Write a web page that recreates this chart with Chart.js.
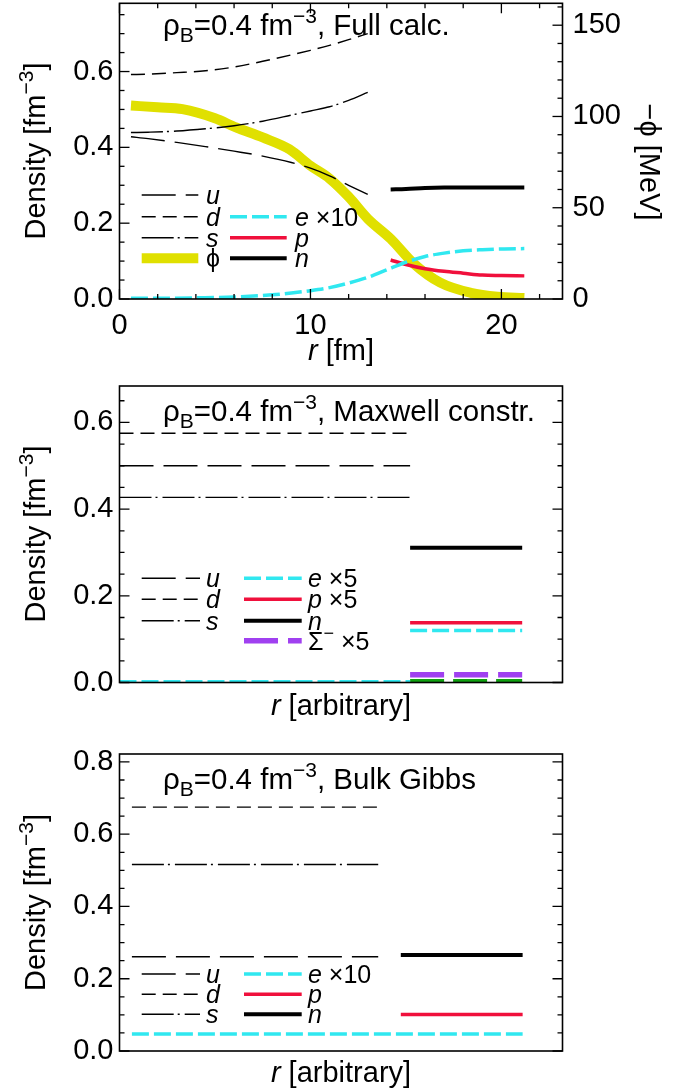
<!DOCTYPE html>
<html>
<head>
<meta charset="utf-8">
<script src="https://cdn.jsdelivr.net/npm/chart.js@4.4.1/dist/chart.umd.min.js"></script>
<style>
  body { margin: 0; background: #fff; width: 688px; height: 1091px; position: relative; overflow: hidden; }
  canvas { position: absolute; left: 0; }
</style>
</head>
<body>
<canvas id="full" width="688" height="375" style="top:0px"></canvas>
<canvas id="maxwell" width="688" height="356" style="top:372px"></canvas>
<canvas id="gibbs" width="688" height="356" style="top:735px"></canvas>
<script>
// ---- Full calculation (r in fm) ----
const rQuark = [0.6, 1.5, 3, 4.5, 6, 7.5, 9, 10, 11, 12, 13];
const uFull = [0.428, 0.423, 0.413, 0.402, 0.390, 0.377, 0.360, 0.345, 0.325, 0.300, 0.276];
const dFull = [0.592, 0.593, 0.597, 0.602, 0.612, 0.627, 0.644, 0.656, 0.669, 0.684, 0.700];
const sFull = [0.439, 0.440, 0.443, 0.449, 0.457, 0.469, 0.485, 0.496, 0.507, 0.524, 0.545];

const rPhi = [0.6, 2, 3.3, 5, 6.1, 7.5, 8.9, 10, 11, 12, 13, 14.2, 15.4, 16.8, 18.4, 19.8, 21.2];
const phiFull = [106, 105, 104, 99, 94, 88.5, 82, 73, 66, 56, 44, 33, 19.5, 9, 3.4, 1.2, 0.5]; // MeV

const rHad = [14.2, 15, 16, 17, 18, 19, 20, 21.2];
const nFull = [0.289, 0.290, 0.293, 0.294, 0.294, 0.294, 0.294, 0.294];
const pFull = [0.103, 0.091, 0.080, 0.073, 0.068, 0.063, 0.062, 0.061];

const rE = [0.6, 2, 4, 6, 8, 9, 10, 11, 12, 13, 14, 15, 16, 17, 18, 19, 20, 21.2];
const eFull = [0.002, 0.002, 0.003, 0.005, 0.011, 0.016, 0.022, 0.030, 0.042, 0.057, 0.077, 0.097, 0.112, 0.121, 0.127, 0.130, 0.132, 0.133];

// ---- Maxwell construction (r arbitrary, 0..1) ----
const mxQuarkR = [0, 0.656];
const mxHadR = [0.656, 0.909];
const mxU = [0.500, 0.500];
const mxD = [0.575, 0.575];
const mxS = [0.427, 0.427];
const mxEQuark = [0.002, 0.002];
const mxE = [0.120, 0.120];
const mxP = [0.138, 0.138];
const mxN = [0.311, 0.311];
const mxSig = [0.018, 0.018];
const mxGreen = [0.004, 0.004];

// ---- Bulk Gibbs (r arbitrary, 0..1) ----
const bgQuarkR = [0.028, 0.584];
const bgHadR = [0.635, 0.910];
const bgER = [0.028, 0.910];
const bgU = [0.261, 0.261];
const bgD = [0.675, 0.675];
const bgS = [0.516, 0.516];
const bgE = [0.047, 0.047];
const bgP = [0.101, 0.101];
const bgN = [0.266, 0.266];

const FONT = '"Liberation Sans", Arial, sans-serif';
Chart.defaults.font.family = FONT;
Chart.defaults.color = '#000';

// line styles
const ST = {
  u: { borderColor: '#000', borderWidth: 1.4, borderDash: [34, 10] },
  d: { borderColor: '#000', borderWidth: 1.4, borderDash: [14, 7] },
  s: { borderColor: '#000', borderWidth: 1.4, borderDash: [32, 4, 2, 5] },
  e: { borderColor: '#30e8f0', borderWidth: 3.5, borderDash: [17, 5] },
  p: { borderColor: '#f0103c', borderWidth: 3.5, borderDash: [] },
  n: { borderColor: '#000', borderWidth: 4, borderDash: [] },
  phi: { borderColor: '#e0e000', borderWidth: 10, borderDash: [] },
  sig: { borderColor: '#a040f0', borderWidth: 5.5, borderDash: [34, 10] },
  green: { borderColor: '#10a010', borderWidth: 3.5, borderDash: [34, 9] }
};

function pts(xs, ys) { return xs.map((x, i) => ({ x: x, y: ys[i] })); }

function series(label, xs, ys, st, axis) {
  return Object.assign({
    label: label, data: pts(xs, ys), pointRadius: 0, fill: false,
    borderCapStyle: 'butt', cubicInterpolationMode: 'monotone', yAxisID: axis || 'y'
  }, st);
}

// rich text helpers
const T = t => ({ t: t });
const I = t => ({ t: t, it: true });
const SUP = t => ({ t: t, sup: true });
const SUB = t => ({ t: t, sub: true });

function fontFor(s, size) {
  const sz = (s.sup || s.sub) ? Math.round(size * 0.72) : size;
  return (s.it ? 'italic ' : '') + sz + 'px ' + FONT;
}

function drawRich(ctx, segs, x, y, size, align) {
  let w = 0;
  segs.forEach(s => { ctx.font = fontFor(s, size); w += ctx.measureText(s.t).width; });
  let cx = align === 'center' ? x - w / 2 : x;
  ctx.textAlign = 'left';
  ctx.textBaseline = 'alphabetic';
  segs.forEach(s => {
    ctx.font = fontFor(s, size);
    const dy = s.sup ? -0.42 * size : (s.sub ? 0.24 * size : 0);
    ctx.fillText(s.t, cx, y + dy);
    cx += ctx.measureText(s.t).width;
  });
}

// box round the plot and inward ticks
const framePlugin = {
  id: 'frame',
  afterDatasetsDraw(chart, args, opts) {
    const ctx = chart.ctx, a = chart.chartArea;
    ctx.save();
    ctx.strokeStyle = '#000';
    ctx.setLineDash([]);
    ctx.lineWidth = 1.6;
    ctx.strokeRect(a.left, a.top, a.right - a.left, a.bottom - a.top);
    ctx.lineWidth = 1.3;
    (opts.marks || []).forEach(m => {
      const sc = chart.scales[m.scale];
      const k0 = Math.ceil(sc.min / m.minor - 1e-6), k1 = Math.floor(sc.max / m.minor + 1e-6);
      for (let k = k0; k <= k1; k++) {
        const v = k * m.minor;
        const r = v / m.major;
        const len = Math.abs(r - Math.round(r)) < 1e-6 ? 10 : 5;
        const p = sc.getPixelForValue(v);
        ctx.beginPath();
        m.sides.forEach(side => {
          if (side === 'left') { ctx.moveTo(a.left, p); ctx.lineTo(a.left + len, p); }
          if (side === 'right') { ctx.moveTo(a.right, p); ctx.lineTo(a.right - len, p); }
          if (side === 'bottom') { ctx.moveTo(p, a.bottom); ctx.lineTo(p, a.bottom - len); }
          if (side === 'top') { ctx.moveTo(p, a.top); ctx.lineTo(p, a.top + len); }
        });
        ctx.stroke();
      }
    });
    ctx.restore();
  }
};

// titles and axis labels with sub/superscripts
const textPlugin = {
  id: 'texts',
  afterDraw(chart, args, opts) {
    const ctx = chart.ctx;
    (opts.items || []).forEach(it => {
      ctx.save();
      ctx.fillStyle = '#000';
      if (it.rot) {
        ctx.translate(it.x, it.y);
        ctx.rotate(it.rot);
        drawRich(ctx, it.segs, 0, 0, it.size, 'center');
      } else {
        drawRich(ctx, it.segs, it.x, it.y, it.size, it.align);
      }
      ctx.restore();
    });
  }
};

// legend drawn inside the plot
const keyPlugin = {
  id: 'keys',
  afterDraw(chart, args, opts) {
    const ctx = chart.ctx;
    (opts.rows || []).forEach(r => {
      ctx.save();
      ctx.strokeStyle = r.st.borderColor;
      ctx.lineWidth = r.st.borderWidth;
      ctx.setLineDash(r.st.borderDash);
      ctx.lineCap = 'butt';
      ctx.beginPath();
      ctx.moveTo(r.x0, r.y);
      ctx.lineTo(r.x1, r.y);
      ctx.stroke();
      ctx.fillStyle = '#000';
      drawRich(ctx, r.segs, r.tx, r.y + 9, 25, 'left');
      ctx.restore();
    });
  }
};

const tickFont = { size: 29 };
const yFmt = v => (Math.abs(v * 5 - Math.round(v * 5)) < 1e-6 ? v.toFixed(1) : '');

// fixed axis sizes so the plot box sits where the reference has it
function fixWidth(w) {
  return s => { s.width = w; s.paddingTop = 0; s.paddingBottom = 0; };
}
function fixHeight(h) {
  return s => { s.height = h; s.paddingLeft = 0; s.paddingRight = 0; };
}

function leftAxis(max) {
  return {
    type: 'linear', position: 'left', min: 0, max: max,
    afterFit: fixWidth(119.5),
    grid: { display: false, drawTicks: false }, border: { display: false },
    ticks: { stepSize: 0.2, includeBounds: false, padding: 6, font: tickFont, callback: yFmt }
  };
}

function arbitraryX(h) {
  return {
    type: 'linear', min: 0, max: 1,
    afterFit: fixHeight(h),
    grid: { display: false, drawTicks: false }, border: { display: false },
    ticks: { display: false }
  };
}

function baseOptions(pad) {
  return { responsive: false, animation: false, events: [], layout: { padding: pad } };
}

function titleSegs(name) {
  return [T('ρ'), SUB('B'), T('=0.4 fm'), SUP('−3'), T(', ' + name)];
}
const densitySegs = [T('Density [fm'), SUP('−3'), T(']')];

function keyRow(y, st, segs, x0, x1, tx) {
  return { x0: x0, x1: x1, tx: tx, y: y, st: st, segs: segs };
}

// ---------- panel 1: full calculation ----------
const o1 = baseOptions({ top: 3.3, left: 0, right: 0, bottom: 0 });
o1.scales = {
  x: {
    type: 'linear', min: 0, max: 23.2,
    afterFit: fixHeight(375 - 299),
    grid: { display: false, drawTicks: false }, border: { display: false },
    ticks: { stepSize: 10, includeBounds: false, padding: 10, maxRotation: 0, font: tickFont,
             callback: v => (v % 10 === 0 ? String(v) : '') }
  },
  y: leftAxis(0.78),
  y2: {
    type: 'linear', position: 'right', min: 0, max: 162,
    afterFit: fixWidth(688 - 562.5),
    grid: { display: false, drawTicks: false }, border: { display: false },
    ticks: { stepSize: 50, includeBounds: false, padding: 10, font: tickFont,
             callback: v => (v % 50 === 0 ? String(v) : '') }
  }
};
o1.plugins = {
  legend: { display: false }, tooltip: { enabled: false },
  frame: { marks: [
    { scale: 'y', major: 0.2, minor: 0.05, sides: ['left'] },
    { scale: 'y2', major: 50, minor: 10, sides: ['right'] },
    { scale: 'x', major: 10, minor: 2, sides: ['bottom', 'top'] }
  ] },
  texts: { items: [
    { segs: titleSegs('Full calc.'), x: 163, y: 35, size: 29.5, align: 'left' },
    { segs: [I('r'), T(' [fm]')], x: 341, y: 360, size: 29, align: 'center' },
    { segs: densitySegs, x: 45, y: 151, size: 29, rot: -Math.PI / 2 },
    { segs: [T('−ϕ [MeV]')], x: 640, y: 162, size: 29, rot: Math.PI / 2 }
  ] },
  keys: { rows: [
    keyRow(195, ST.u, [I('u')], 141.7, 198.3, 206),
    keyRow(216.7, ST.d, [I('d')], 141.7, 198.3, 206),
    keyRow(237.7, ST.s, [I('s')], 141.7, 198.3, 206),
    keyRow(258.3, ST.phi, [T('ϕ')], 141.7, 198.3, 206),
    keyRow(216.7, ST.e, [I('e'), T(' ×10')], 230, 286.7, 295),
    keyRow(237.7, ST.p, [I('p')], 230, 286.7, 295),
    keyRow(258.3, ST.n, [I('n')], 230, 286.7, 295)
  ] }
};

new Chart(document.getElementById('full'), {
  type: 'line',
  data: { datasets: [
    series('u', rQuark, uFull, ST.u),
    series('d', rQuark, dFull, ST.d),
    series('s', rQuark, sFull, ST.s),
    series('e ×10', rE, eFull, ST.e),
    series('p', rHad, pFull, ST.p),
    series('n', rHad, nFull, ST.n),
    series('ϕ', rPhi, phiFull, ST.phi, 'y2')
  ] },
  options: o1,
  plugins: [framePlugin, textPlugin, keyPlugin]
});

// ---------- panel 2: Maxwell construction ----------
const o2 = baseOptions({ top: 14, left: 0, right: 125.5, bottom: 0 });
o2.scales = { x: arbitraryX(45.5), y: leftAxis(0.684) };
o2.plugins = {
  legend: { display: false }, tooltip: { enabled: false },
  frame: { marks: [{ scale: 'y', major: 0.2, minor: 0.05, sides: ['left', 'right'] }] },
  texts: { items: [
    { segs: titleSegs('Maxwell constr.'), x: 163, y: 49, size: 29.5, align: 'left' },
    { segs: [I('r'), T(' [arbitrary]')], x: 341, y: 343, size: 29, align: 'center' },
    { segs: densitySegs, x: 45, y: 162, size: 29, rot: -Math.PI / 2 }
  ] },
  keys: { rows: [
    keyRow(206.3, ST.u, [I('u')], 141.7, 200, 206),
    keyRow(227.3, ST.d, [I('d')], 141.7, 200, 206),
    keyRow(248.7, ST.s, [I('s')], 141.7, 200, 206),
    keyRow(206.3, ST.e, [I('e'), T(' ×5')], 244, 301.7, 308),
    keyRow(227.3, ST.p, [I('p'), T(' ×5')], 244, 301.7, 308),
    keyRow(248.7, ST.n, [I('n')], 244, 301.7, 308),
    keyRow(268.7, ST.sig, [T('Σ'), SUP('−'), T(' ×5')], 244, 301.7, 308)
  ] }
};

new Chart(document.getElementById('maxwell'), {
  type: 'line',
  data: { datasets: [
    series('u', mxQuarkR, mxU, ST.u),
    series('d', mxQuarkR, mxD, ST.d),
    series('s', mxQuarkR, mxS, ST.s),
    series('e ×5 (quark)', mxQuarkR, mxEQuark, ST.e),
    series('e ×5', mxHadR, mxE, ST.e),
    series('p ×5', mxHadR, mxP, ST.p),
    series('n', mxHadR, mxN, ST.n),
    series('Σ− ×5', mxHadR, mxSig, ST.sig),
    series('other', mxHadR, mxGreen, ST.green)
  ] },
  options: o2,
  plugins: [framePlugin, textPlugin, keyPlugin]
});

// ---------- panel 3: bulk Gibbs ----------
const o3 = baseOptions({ top: 19, left: 0, right: 125.5, bottom: 0 });
o3.scales = { x: arbitraryX(40), y: leftAxis(0.822) };
o3.plugins = {
  legend: { display: false }, tooltip: { enabled: false },
  frame: { marks: [{ scale: 'y', major: 0.2, minor: 0.05, sides: ['left', 'right'] }] },
  texts: { items: [
    { segs: titleSegs('Bulk Gibbs'), x: 163, y: 54, size: 29.5, align: 'left' },
    { segs: [I('r'), T(' [arbitrary]')], x: 341, y: 347, size: 29, align: 'center' },
    { segs: densitySegs, x: 45, y: 167.5, size: 29, rot: -Math.PI / 2 }
  ] },
  keys: { rows: [
    keyRow(239, ST.u, [I('u')], 141.7, 200, 206),
    keyRow(259.3, ST.d, [I('d')], 141.7, 200, 206),
    keyRow(279.3, ST.s, [I('s')], 141.7, 200, 206),
    keyRow(239, ST.e, [I('e'), T(' ×10')], 244, 301.7, 308),
    keyRow(259.3, ST.p, [I('p')], 244, 301.7, 308),
    keyRow(279.3, ST.n, [I('n')], 244, 301.7, 308)
  ] }
};

new Chart(document.getElementById('gibbs'), {
  type: 'line',
  data: { datasets: [
    series('u', bgQuarkR, bgU, ST.u),
    series('d', bgQuarkR, bgD, ST.d),
    series('s', bgQuarkR, bgS, ST.s),
    series('e ×10', bgER, bgE, ST.e),
    series('p', bgHadR, bgP, ST.p),
    series('n', bgHadR, bgN, ST.n)
  ] },
  options: o3,
  plugins: [framePlugin, textPlugin, keyPlugin]
});
</script>
</body>
</html>
